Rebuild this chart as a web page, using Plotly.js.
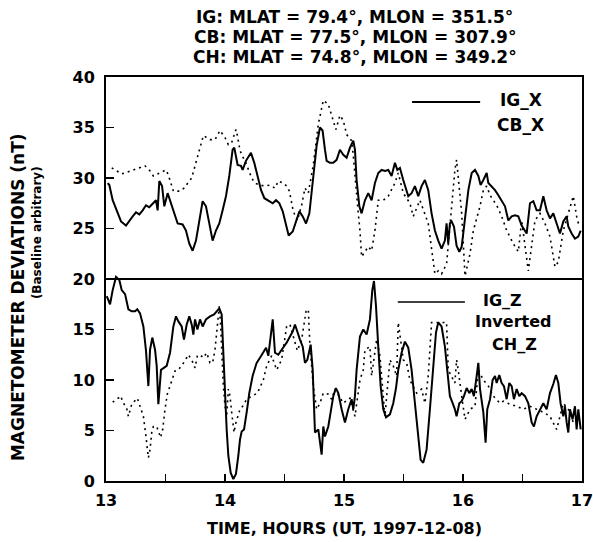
<!DOCTYPE html>
<html>
<head>
<meta charset="utf-8">
<script src="https://cdn.plot.ly/plotly-3.0.1.min.js"></script>
<style>html,body{margin:0;padding:0;background:#fff}#chart{width:593px;height:542px}</style>
</head>
<body>
<div id="chart"></div>
<script>
// ---- DATA ----
const igxT = [13.014,13.028,13.056,13.098,13.126,13.168,13.196,13.224,13.252,13.280,13.308,13.336,13.364,13.392,13.420,13.434,13.448,13.471,13.490,13.518,13.546,13.574,13.602,13.644,13.672,13.700,13.728,13.756,13.784,13.812,13.840,13.868,13.896,13.924,13.952,13.980,14.008,14.036,14.064,14.078,14.092,14.106,14.134,14.148,14.176,14.218,14.246,14.275,14.303,14.331,14.373,14.401,14.429,14.457,14.485,14.513,14.535,14.569,14.597,14.625,14.653,14.681,14.709,
14.742,14.770,14.798,14.820,14.840,14.854,14.882,14.910,14.938,14.966,14.994,15.022,15.050,15.078,15.092,15.106,15.129,15.148,15.176,15.204,15.232,15.260,15.288,15.316,15.344,15.372,15.400,15.428,15.448,15.470,15.498,15.540,15.568,15.596,15.624,15.652,15.680,15.708,15.736,15.764,15.792,15.820,15.848,15.862,15.876,15.890,15.904,15.924,15.946,15.969,15.989,16.017,16.045,16.073,16.101,16.129,16.148,16.171,16.199,16.213,16.241,16.269,16.297,16.325,16.353,16.381,16.409,16.437,16.465,16.493,16.521,16.535,16.563,16.591,16.619,16.647,16.675,16.703,16.731,16.759,16.787,16.815,16.843,16.871,16.885,16.913,16.941,16.969,16.989];
const igxV = [29.5,29.3,27.8,26.5,25.7,25.3,25.8,26.2,26.6,26.4,26.8,27.3,27.1,27.5,27.8,26.8,29.7,29.2,27.2,28.5,27.5,26.5,25.5,25.4,24.8,23.5,22.8,23.8,25.8,27.7,27.2,25.5,23.8,24.8,25.5,26.8,28.2,30.2,32.8,33.0,32.2,31.3,31.2,30.8,31.7,32.5,31.5,30.2,28.8,28.0,27.7,27.5,27.8,27.5,26.7,25.5,24.3,24.7,25.8,26.7,26.2,25.5,26.5,
29.8,33.2,35.0,34.7,32.8,31.7,31.5,31.5,31.8,32.8,32.3,32.0,33.0,33.7,32.8,29.8,27.2,26.5,27.8,28.5,27.8,29.5,30.5,30.8,30.7,30.8,30.2,31.5,30.8,31.0,29.8,28.2,28.5,29.2,28.2,29.2,29.8,28.8,26.5,24.8,23.8,23.0,23.8,25.5,23.5,25.5,25.7,25.2,23.3,22.7,23.2,26.2,28.8,30.5,30.8,30.2,29.3,29.8,30.5,29.5,29.2,28.8,28.3,27.7,27.2,25.8,26.2,26.3,26.2,25.3,24.8,24.5,27.5,27.7,26.8,26.8,28.2,26.8,26.0,26.5,25.5,24.5,25.7,26.2,25.2,24.5,24.0,24.2,24.8];

const cbxT = [13.048,13.132,13.328,13.370,13.398,13.504,13.524,13.566,13.622,13.655,13.720,13.748,13.768,13.818,13.846,13.874,13.916,13.958,14.000,14.028,14.056,14.092,14.104,14.126,14.182,14.224,14.252,14.294,14.336,14.378,14.420,14.448,14.490,14.518,14.541,14.560,14.574,14.608,14.644,14.672,14.700,
14.742,14.784,14.826,14.868,14.932,14.966,14.994,15.022,15.064,15.078,15.120,15.134,15.148,15.204,15.232,15.260,15.288,15.330,15.372,15.400,15.428,15.456,15.498,15.554,15.582,15.638,15.666,15.708,15.764,15.792,15.820,15.862,15.890,15.913,15.932,15.946,15.960,15.974,15.989,16.017,16.059,16.087,16.143,16.171,16.199,16.227,16.283,16.325,16.367,16.423,16.465,16.493,16.549,16.605,16.647,16.689,16.731,16.773,16.801,16.843,16.885,16.927,16.955,16.977];
const cbxV = [31.0,30.4,31.2,30.7,30.2,30.8,30.3,28.7,28.7,29.0,30.0,31.2,32.3,34.2,34.0,33.8,33.8,34.7,34.0,33.3,33.5,34.8,34.2,32.7,31.3,30.0,29.5,29.3,29.2,29.3,29.0,29.7,29.5,29.2,28.7,27.5,26.7,25.8,27.3,29.0,28.5,
31.3,35.3,37.7,37.3,34.8,36.2,35.7,34.3,33.7,32.2,26.5,24.8,22.2,23.2,22.8,24.8,27.8,27.8,28.2,28.8,29.5,30.5,28.5,27.5,26.2,27.8,26.8,25.5,20.5,20.8,20.5,21.5,25.2,28.2,30.8,31.8,29.8,28.2,26.5,20.3,22.5,24.8,27.2,28.8,29.2,28.3,27.3,26.2,24.8,23.5,22.7,25.8,20.8,25.8,26.5,25.5,24.2,21.2,21.7,24.8,26.5,28.2,26.2,25.2];

const igzT = [13.006,13.020,13.034,13.056,13.084,13.112,13.132,13.160,13.188,13.216,13.244,13.263,13.286,13.314,13.336,13.356,13.370,13.389,13.412,13.426,13.440,13.462,13.482,13.510,13.538,13.566,13.588,13.608,13.636,13.655,13.678,13.700,13.720,13.734,13.748,13.768,13.790,13.812,13.840,13.874,13.908,13.930,13.952,13.972,13.986,14.000,14.014,14.028,14.048,14.070,14.092,14.112,14.126,14.140,14.160,14.182,14.204,14.232,14.266,14.294,14.322,14.345,14.364,14.384,14.401,14.420,14.448,14.476,14.496,14.518,14.546,14.569,14.588,14.608,14.630,14.653,14.672,14.692,14.709,14.720,14.737,
14.756,14.784,14.798,14.812,14.826,14.840,14.868,14.882,14.910,14.932,14.952,14.980,15.008,15.036,15.064,15.078,15.092,15.106,15.134,15.162,15.190,15.218,15.238,15.252,15.269,15.288,15.308,15.330,15.353,15.386,15.414,15.437,15.456,15.484,15.512,15.540,15.568,15.596,15.624,15.644,15.666,15.694,15.722,15.745,15.773,15.792,15.820,15.848,15.868,15.890,15.913,15.932,15.946,15.969,15.989,16.008,16.031,16.053,16.073,16.092,16.115,16.129,16.143,16.157,16.171,16.190,16.204,16.227,16.249,16.269,16.283,16.305,16.325,16.344,16.367,16.389,16.409,16.428,16.451,16.473,16.493,16.521,16.549,16.577,16.596,16.619,16.647,16.675,16.703,16.731,16.759,16.781,16.801,16.820,16.843,16.857,16.871,16.885,16.899,16.921,16.941,16.955,16.969,16.989];
const igzV = [18.3,17.8,17.5,18.9,20.2,19.9,18.9,18.5,17.0,16.8,16.8,17.0,16.6,15.3,12.9,9.4,13.0,14.2,13.0,11.4,7.6,11.0,11.2,11.4,12.7,15.3,16.3,15.8,15.3,14.0,15.5,16.3,15.5,14.5,16.0,15.0,16.0,15.3,16.0,16.3,16.5,16.8,17.1,16.5,12.7,7.7,5.1,2.5,0.8,0.2,0.7,2.5,4.1,4.9,5.1,6.8,8.7,10.4,11.7,12.2,12.7,13.2,12.4,14.3,16.0,12.7,12.5,13.0,13.3,13.7,14.3,14.8,15.5,14.7,14.0,13.3,11.7,12.0,13.0,13.5,11.0,
4.8,5.1,3.5,2.6,5.4,4.4,5.4,6.4,8.4,9.2,8.7,7.1,5.8,7.1,8.1,7.1,8.4,11.0,14.3,15.0,14.5,16.0,18.9,19.8,17.3,13.3,9.4,7.1,6.3,6.6,7.7,9.2,11.0,12.7,13.8,13.2,11.0,7.7,4.4,2.1,1.8,3.1,7.1,11.0,14.7,15.7,15.3,13.3,10.7,8.4,7.7,7.1,6.4,7.7,7.9,8.4,9.2,8.7,9.1,8.4,10.4,11.7,9.1,7.7,6.8,3.8,7.1,8.1,10.0,10.4,9.7,10.5,9.7,9.4,8.1,9.7,9.4,8.1,9.1,8.4,8.7,8.4,7.7,5.8,5.4,6.4,7.1,7.7,7.1,8.7,9.6,10.5,9.7,7.7,6.4,7.4,5.8,4.8,7.1,6.1,7.4,5.1,7.1,5.1];

const chzT = [13.056,13.126,13.137,13.174,13.188,13.216,13.263,13.314,13.336,13.347,13.356,13.370,13.384,13.398,13.426,13.459,13.476,13.496,13.515,13.552,13.580,13.608,13.636,13.664,13.692,13.720,13.748,13.768,13.790,13.818,13.846,13.874,13.896,13.916,13.930,13.952,13.964,13.975,13.986,14.000,14.014,14.028,14.042,14.056,14.076,14.092,14.126,14.148,14.182,14.272,14.322,14.350,14.392,14.434,14.476,14.518,14.546,14.574,14.608,14.644,14.681,14.700,
14.714,14.742,14.770,14.798,14.826,14.868,14.896,14.924,14.994,15.050,15.092,15.134,15.162,15.176,15.218,15.232,15.260,15.274,15.302,15.344,15.386,15.414,15.442,15.456,15.498,15.526,15.554,15.610,15.652,15.680,15.708,15.736,15.778,15.820,15.862,15.876,15.904,15.932,15.946,15.960,15.989,16.017,16.059,16.101,16.129,16.171,16.213,16.255,16.311,16.339,16.395,16.451,16.507,16.563,16.619,16.675,16.731,16.787,16.843,16.885,16.927,16.969];
const chzV = [7.8,8.4,7.9,7.2,6.4,7.6,8.2,6.4,4.4,3.1,2.3,3.1,4.8,5.4,5.4,4.3,5.1,7.1,8.6,9.9,10.9,11.0,11.4,11.9,12.5,12.0,11.2,12.4,12.5,12.2,12.7,11.7,11.7,13.0,14.7,17.3,15.3,11.4,9.4,7.4,6.4,9.1,8.4,6.8,4.8,5.8,7.1,7.4,8.1,8.7,10.0,11.4,12.4,11.0,12.0,15.3,15.5,14.3,12.9,14.0,16.8,17.0,
13.3,9.4,7.1,7.7,8.7,8.6,8.1,9.1,7.7,8.2,6.4,10.0,11.0,13.0,13.3,10.4,12.7,14.0,12.4,6.4,12.0,11.4,10.4,15.7,12.0,11.7,10.0,8.7,9.1,7.7,10.4,15.7,15.7,15.7,15.7,11.0,10.4,9.7,12.0,11.0,8.4,6.1,7.1,7.4,11.0,10.0,9.4,8.4,7.7,7.9,7.6,7.4,7.1,7.4,7.1,6.8,6.4,5.1,7.7,7.1,5.8,6.4];

const xTickVals = [13,13.5,14,14.5,15,15.5,16,16.5,17];
const xTickText = ['13','','14','','15','','16','','17'];
const yTickVals = [0,5,10,15,20,25,30,35,40];
const titleLines = ['IG: MLAT = 79.4°, MLON = 351.5°','CB: MLAT = 77.5°, MLON = 307.9°','CH: MLAT = 74.8°, MLON = 349.2°'];

// ---- CHART ----
const FONT = 'DejaVu Sans, Liberation Sans, Arial, sans-serif';
const solid = {color:'#000', width:2};
const dotted = {color:'#000', width:1.6, dash:'2px,4px'};
const traces = [
  {x:igxT, y:igxV, mode:'lines', line:solid, name:'IG_X', hoverinfo:'skip'},
  {x:cbxT, y:cbxV, mode:'lines', line:dotted, name:'CB_X', hoverinfo:'skip'},
  {x:igzT, y:igzV, mode:'lines', line:solid, name:'IG_Z', hoverinfo:'skip'},
  {x:chzT, y:chzV, mode:'lines', line:dotted, name:'Inverted CH_Z', hoverinfo:'skip'}
];
const bold = (s)=>({family:FONT, size:s, color:'#000', weight:'bold'});
const ann = [];
titleLines.forEach((t,i)=>ann.push({text:t, xref:'paper', yref:'paper', x:0.523, y:1.148-0.0495*i, showarrow:false, xanchor:'center', yanchor:'middle', font:bold(17)}));
ann.push({text:'TIME, HOURS (UT, 1997-12-08)', xref:'paper', yref:'paper', x:0.502, y:-0.118, showarrow:false, xanchor:'center', yanchor:'middle', font:bold(16)});
ann.push({text:'MAGNETOMETER DEVIATIONS (nT)', xref:'paper', yref:'paper', x:-0.185, y:0.455, textangle:-90, showarrow:false, xanchor:'center', yanchor:'middle', font:bold(17)});
ann.push({text:'(Baseline arbitrary)', xref:'paper', yref:'paper', x:-0.145, y:0.616, textangle:-90, showarrow:false, xanchor:'center', yanchor:'middle', font:bold(12)});
ann.push({text:'IG_X', xref:'paper', yref:'paper', x:0.872, y:0.943, showarrow:false, xanchor:'center', yanchor:'middle', font:bold(17)});
ann.push({text:'CB_X', xref:'paper', yref:'paper', x:0.870, y:0.881, showarrow:false, xanchor:'center', yanchor:'middle', font:bold(17)});
ann.push({text:'IG_Z', xref:'paper', yref:'paper', x:0.832, y:0.448, showarrow:false, xanchor:'center', yanchor:'middle', font:bold(16)});
ann.push({text:'Inverted', xref:'paper', yref:'paper', x:0.855, y:0.394, showarrow:false, xanchor:'center', yanchor:'middle', font:bold(16)});
ann.push({text:'CH_Z', xref:'paper', yref:'paper', x:0.859, y:0.337, showarrow:false, xanchor:'center', yanchor:'middle', font:bold(16)});

const layout = {
  width:593, height:542,
  margin:{l:106, r:11, t:77, b:61},
  paper_bgcolor:'#fff', plot_bgcolor:'#fff',
  showlegend:false,
  font:{family:FONT, color:'#000'},
  xaxis:{range:[12.9999,17.0001], tickvals:xTickVals, ticktext:xTickText, ticks:'inside', ticklen:7, tickwidth:1.5, tickcolor:'#000',
         showline:true, mirror:true, linewidth:2, linecolor:'#000', showgrid:false, zeroline:false, tickfont:bold(16),
         ticklabeloverflow:'allow', ticklabelstandoff:4},
  yaxis:{range:[0,40], tickvals:yTickVals, ticks:'inside', ticklen:8, tickwidth:1.5, tickcolor:'#000',
         showline:true, mirror:true, linewidth:2, linecolor:'#000', showgrid:false, zeroline:false, tickfont:bold(16),
         ticklabeloverflow:'allow', ticklabelstandoff:6},
  shapes:[
    {type:'line', xref:'paper', yref:'y', x0:0, x1:1, y0:20, y1:20, line:{color:'#000', width:2}},
    {type:'line', xref:'paper', yref:'paper', x0:0.643, x1:0.786, y0:0.938, y1:0.938, line:{color:'#000', width:2}},
    {type:'line', xref:'paper', yref:'paper', x0:0.613, x1:0.754, y0:0.443, y1:0.443, line:{color:'#000', width:1.5}}
  ],
  annotations:ann
};
Plotly.newPlot('chart', traces, layout, {staticPlot:true, displayModeBar:false});
</script>
</body>
</html>
